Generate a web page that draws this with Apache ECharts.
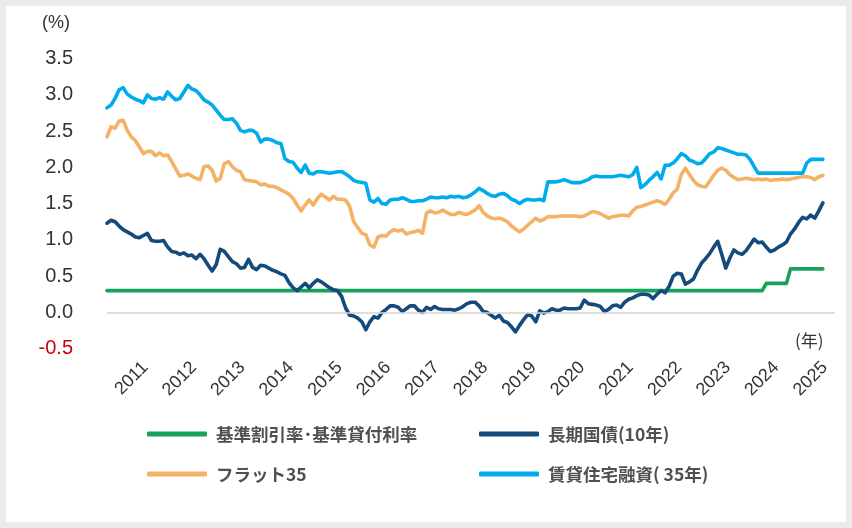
<!DOCTYPE html>
<html>
<head>
<meta charset="utf-8">
<script src="https://cdn.jsdelivr.net/npm/echarts@6/dist/echarts.min.js"></script>
<style>
    html, body { margin: 0; padding: 0; background: #ebebeb; }
    #panel { position: absolute; left: 6px; top: 6px; width: 840px; height: 516px; background: #fff; }
    #chart { position: absolute; left: 0; top: 0; width: 852px; height: 528px; }
</style>
</head>
<body>
<div id="panel"></div>
<div id="chart"></div>
<script>
    // 年ラベル（目盛り）
    var years = ['2011', '2012', '2013', '2014', '2015', '2016', '2017', '2018',
        '2019', '2020', '2021', '2022', '2023', '2024', '2025'];

    var names = ['基準割引率･基準貸付利率', '長期国債(10年)', 'フラット35', '賃貸住宅融資( 35年)'];
    var colors = ['#17a25b', '#154a7c', '#f3b266', '#00acec'];

    // 基準割引率・基準貸付利率
    var baseRate = [
        0.3, 0.3, 0.3, 0.3, 0.3, 0.3, 0.3, 0.3, 0.3, 0.3, 0.3, 0.3, 0.3, 0.3, 0.3, 0.3, 0.3, 0.3, 0.3, 0.3,
        0.3, 0.3, 0.3, 0.3, 0.3, 0.3, 0.3, 0.3, 0.3, 0.3, 0.3, 0.3, 0.3, 0.3, 0.3, 0.3, 0.3, 0.3, 0.3, 0.3,
        0.3, 0.3, 0.3, 0.3, 0.3, 0.3, 0.3, 0.3, 0.3, 0.3, 0.3, 0.3, 0.3, 0.3, 0.3, 0.3, 0.3, 0.3, 0.3, 0.3,
        0.3, 0.3, 0.3, 0.3, 0.3, 0.3, 0.3, 0.3, 0.3, 0.3, 0.3, 0.3, 0.3, 0.3, 0.3, 0.3, 0.3, 0.3, 0.3, 0.3,
        0.3, 0.3, 0.3, 0.3, 0.3, 0.3, 0.3, 0.3, 0.3, 0.3, 0.3, 0.3, 0.3, 0.3, 0.3, 0.3, 0.3, 0.3, 0.3, 0.3,
        0.3, 0.3, 0.3, 0.3, 0.3, 0.3, 0.3, 0.3, 0.3, 0.3, 0.3, 0.3, 0.3, 0.3, 0.3, 0.3, 0.3, 0.3, 0.3, 0.3,
        0.3, 0.3, 0.3, 0.3, 0.3, 0.3, 0.3, 0.3, 0.3, 0.3, 0.3, 0.3, 0.3, 0.3, 0.3, 0.3, 0.3, 0.3, 0.3, 0.3,
        0.3, 0.3, 0.3, 0.3, 0.3, 0.3, 0.3, 0.3, 0.3, 0.3, 0.3, 0.3, 0.3, 0.3, 0.3, 0.3, 0.3, 0.3, 0.3, 0.3,
        0.3, 0.3, 0.3, 0.4, 0.4, 0.4, 0.4, 0.4, 0.4, 0.6, 0.6, 0.6, 0.6, 0.6, 0.6, 0.6, 0.6, 0.6
    ];

    // 長期国債(10年)
    var jgb10 = [
        1.23, 1.27, 1.25, 1.19, 1.14, 1.11, 1.08, 1.04, 1.03, 1.06,
        1.09, 0.99, 0.98, 0.98, 0.99, 0.90, 0.84, 0.83, 0.80, 0.82,
        0.78, 0.79, 0.74, 0.80, 0.74, 0.65, 0.57, 0.66, 0.87, 0.84,
        0.77, 0.70, 0.67, 0.61, 0.62, 0.73, 0.62, 0.59, 0.65, 0.64,
        0.61, 0.58, 0.56, 0.53, 0.51, 0.41, 0.34, 0.30, 0.35, 0.40,
        0.34, 0.40, 0.45, 0.42, 0.38, 0.34, 0.31, 0.30, 0.22, 0.06,
        -0.04, -0.05, -0.08, -0.13, -0.24, -0.13, -0.06, -0.08, 0.00, 0.04,
        0.09, 0.09, 0.07, 0.01, 0.05, 0.09, 0.09, 0.03, 0.00, 0.07,
        0.04, 0.08, 0.05, 0.04, 0.04, 0.04, 0.03, 0.05, 0.08, 0.12,
        0.14, 0.14, 0.09, 0.01, 0.00, -0.04, -0.08, -0.04, -0.12, -0.14,
        -0.20, -0.27, -0.18, -0.10, -0.03, -0.05, -0.13, 0.02, -0.01, 0.01,
        0.05, 0.03, 0.03, 0.06, 0.05, 0.05, 0.05, 0.06, 0.17, 0.12,
        0.11, 0.10, 0.08, 0.01, 0.04, 0.09, 0.10, 0.07, 0.14, 0.18,
        0.20, 0.23, 0.25, 0.25, 0.24, 0.19, 0.25, 0.30, 0.27, 0.36,
        0.50, 0.54, 0.53, 0.39, 0.42, 0.46, 0.58, 0.68, 0.74, 0.81,
        0.90, 0.98, 0.80, 0.61, 0.75, 0.86, 0.82, 0.80, 0.85, 0.93,
        1.01, 0.96, 0.97, 0.90, 0.84, 0.86, 0.90, 0.93, 0.97, 1.08,
        1.15, 1.24, 1.31, 1.29, 1.34, 1.30, 1.40, 1.51
    ];

    // フラット35
    var flat35 = [
        2.42, 2.56, 2.54, 2.64, 2.65, 2.51, 2.42, 2.37, 2.28, 2.19,
        2.22, 2.22, 2.16, 2.20, 2.16, 2.17, 2.08, 1.98, 1.88, 1.89,
        1.91, 1.88, 1.85, 1.83, 2.01, 2.02, 1.96, 1.81, 1.85, 2.05,
        2.08, 2.01, 1.96, 1.94, 1.83, 1.82, 1.81, 1.80, 1.76, 1.77,
        1.74, 1.74, 1.72, 1.69, 1.66, 1.63, 1.57, 1.48, 1.40, 1.48,
        1.55, 1.48, 1.57, 1.63, 1.59, 1.55, 1.60, 1.56, 1.56, 1.55,
        1.46, 1.25, 1.17, 1.09, 1.07, 0.93, 0.90, 1.04, 1.06, 1.05,
        1.11, 1.14, 1.12, 1.14, 1.08, 1.10, 1.11, 1.13, 1.09, 1.37,
        1.40, 1.37, 1.38, 1.41, 1.38, 1.35, 1.35, 1.38, 1.36, 1.35,
        1.38, 1.41, 1.47, 1.38, 1.33, 1.30, 1.29, 1.30, 1.28, 1.25,
        1.19, 1.15, 1.11, 1.15, 1.20, 1.25, 1.30, 1.26, 1.28, 1.32,
        1.32, 1.32, 1.33, 1.33, 1.33, 1.33, 1.33, 1.32, 1.33, 1.36,
        1.39, 1.38, 1.36, 1.33, 1.30, 1.32, 1.33, 1.34, 1.34, 1.33,
        1.40, 1.45, 1.46, 1.48, 1.50, 1.52, 1.54, 1.52, 1.49, 1.56,
        1.65, 1.70, 1.90, 1.99, 1.90, 1.82, 1.76, 1.74, 1.73, 1.81,
        1.89, 1.96, 1.99, 1.96, 1.90, 1.86, 1.83, 1.84, 1.85, 1.84,
        1.83, 1.84, 1.83, 1.84, 1.82, 1.83, 1.83, 1.84, 1.83, 1.84,
        1.85, 1.86, 1.87, 1.87, 1.86, 1.83, 1.87, 1.89
    ];

    // 賃貸住宅融資(35年)
    var rental35 = [
        2.82, 2.86, 2.95, 3.07, 3.10, 3.01, 2.97, 2.94, 2.92, 2.89,
        3.00, 2.95, 2.94, 2.96, 2.94, 3.04, 2.98, 2.93, 2.95, 3.04,
        3.13, 3.08, 3.06, 3.00, 2.93, 2.90, 2.86, 2.79, 2.72, 2.66,
        2.66, 2.67, 2.61, 2.51, 2.49, 2.51, 2.51, 2.47, 2.35, 2.39,
        2.39, 2.37, 2.34, 2.33, 2.12, 2.08, 2.07, 1.99, 1.93, 2.03,
        1.92, 1.91, 1.94, 1.94, 1.93, 1.92, 1.93, 1.94, 1.94, 1.91,
        1.87, 1.82, 1.80, 1.79, 1.78, 1.55, 1.52, 1.57, 1.50, 1.49,
        1.55, 1.56, 1.56, 1.58, 1.56, 1.53, 1.53, 1.54, 1.54, 1.56,
        1.59, 1.58, 1.58, 1.59, 1.58, 1.60, 1.59, 1.60, 1.58, 1.59,
        1.62, 1.66, 1.71, 1.68, 1.64, 1.61, 1.60, 1.63, 1.64, 1.61,
        1.56, 1.54, 1.50, 1.54, 1.56, 1.55, 1.55, 1.56, 1.54, 1.80,
        1.80, 1.80, 1.81, 1.83, 1.81, 1.79, 1.79, 1.79, 1.81, 1.83,
        1.87, 1.88, 1.87, 1.87, 1.87, 1.87, 1.88, 1.89, 1.88, 1.87,
        1.90, 2.00, 1.72, 1.76, 1.82, 1.87, 1.93, 1.84, 2.03, 2.03,
        2.06, 2.12, 2.19, 2.16, 2.10, 2.08, 2.05, 2.06, 2.12, 2.19,
        2.21, 2.27, 2.26, 2.24, 2.22, 2.20, 2.18, 2.18, 2.17, 2.11,
        2.01, 1.92, 1.92, 1.92, 1.92, 1.92, 1.92, 1.92, 1.92, 1.92,
        1.92, 1.92, 1.92, 2.06, 2.11, 2.11, 2.11, 2.11
    ];

    var firstLabel = 10;   // 最初の年ラベルを置く位置
    var slots = 181;       // 横軸の区切り数（末尾に少し余白）
    var categories = [];
    for (var i = 0; i < slots; i++) {
        categories.push('p' + i);
    }

    function isYearTick(i) {
        return i >= firstLabel && (i - firstLabel) % 12 === 0;
    }

    var seriesData = [baseRate, jgb10, flat35, rental35];
    var series = seriesData.map(function (d, k) {
        var s = {
            name: names[k],
            type: 'line',
            data: d,
            showSymbol: false,
            symbol: 'none',
            smooth: false,
            color: colors[k],
            lineStyle: { color: colors[k], width: 3.6, cap: 'round', join: 'round' },
            itemStyle: { color: colors[k] }
        };
        if (k === 0) {
            s.markLine = {
                silent: true,
                symbol: ['none', 'none'],
                label: { show: false },
                lineStyle: { color: '#d3d3d3', width: 1.5, type: 'solid' },
                data: [{ yAxis: 0 }]
            };
        }
        return s;
    });

    var legendPos = [[142, 418], [474, 418], [142, 458], [474, 458]];
    var legends = names.map(function (n, k) {
        return {
            data: [n],
            left: legendPos[k][0],
            top: legendPos[k][1],
            icon: 'roundRect',
            itemWidth: 60,
            itemHeight: 5,
            selectedMode: false,
            textStyle: {
                fontFamily: 'Noto Sans CJK JP',
                fontSize: 17.5,
                fontWeight: 'bold',
                color: '#505050',
                lineHeight: 22,
                padding: [0, 0, 0, 4]
            }
        };
    });

    var option = {
        animation: false,
        grid: { left: 107, right: 17, top: 58.6, bottom: 179.4 },
        legend: legends,
        xAxis: {
            type: 'category',
            boundaryGap: false,
            data: categories,
            axisLine: { show: false, onZero: false },
            axisTick: { show: false },
            splitLine: { show: false },
            axisLabel: {
                interval: function (i) { return isYearTick(i); },
                formatter: function (v, i) { return years[(i - firstLabel) / 12]; },
                rotate: 45,
                margin: 14,
                padding: [0, 3, 0, 0],
                fontFamily: 'Liberation Sans',
                fontSize: 18,
                color: '#333'
            }
        },
        yAxis: {
            type: 'value',
            min: -0.5,
            max: 3.5,
            interval: 0.5,
            axisLine: { show: false },
            axisTick: { show: false },
            splitLine: { show: false },
            axisLabel: {
                margin: 34,
                fontFamily: 'Liberation Sans',
                fontSize: 20,
                formatter: function (v) { return v.toFixed(1); },
                color: function (v) { return Number(v) < 0 ? '#c8000b' : '#333'; }
            }
        },
        graphic: [
            {
                type: 'text', left: 42, top: 14,
                style: { text: '(%)', font: '18px "Liberation Sans"', fill: '#333' }
            },
            {
                type: 'text', left: 795, top: 332,
                style: { text: '(年)', font: '17px "Noto Sans CJK JP"', fill: '#333' }
            }
        ],
        series: series
    };

    var chart = echarts.init(document.getElementById('chart'));
    chart.setOption(option);
</script>
</body>
</html>
